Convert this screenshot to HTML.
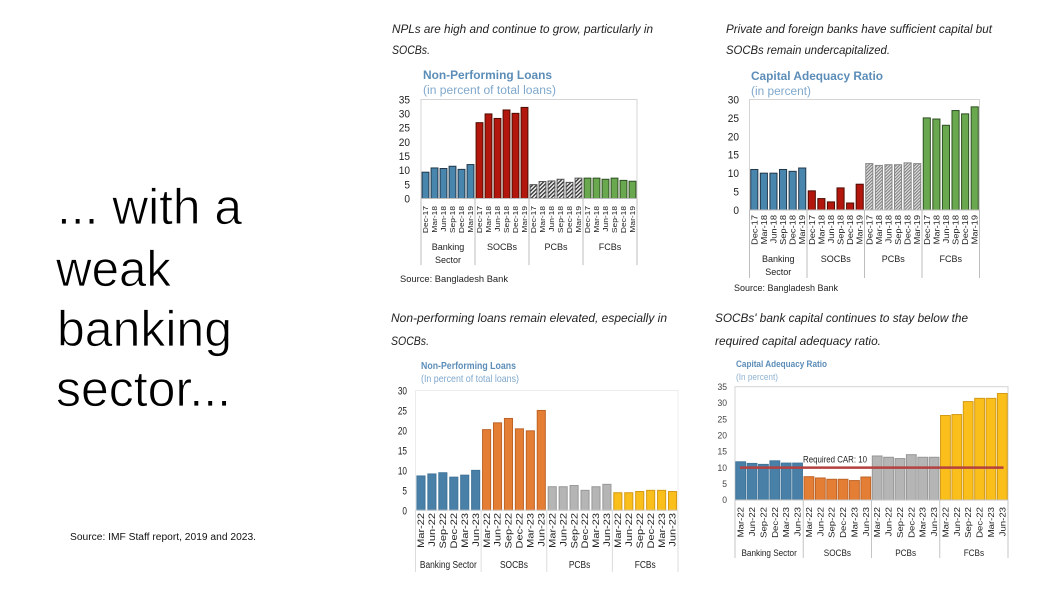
<!DOCTYPE html>
<html lang="en">
<head>
<meta charset="utf-8">
<title>Weak banking sector</title>
<style>
html,body{margin:0;padding:0;background:#fff;width:1059px;height:599px;overflow:hidden}
svg{display:block}
text{font-family:"Liberation Sans",sans-serif}
</style>
</head>
<body>
<svg id="slide" width="1059" height="599" viewBox="0 0 1059 599" xmlns="http://www.w3.org/2000/svg">
<defs>
<pattern id="hatch-dark" width="2.8" height="2.8" patternUnits="userSpaceOnUse" patternTransform="rotate(45)"><rect width="2.8" height="2.8" fill="#f0f0f0"/><rect width="1.3" height="2.8" fill="#333"/></pattern>
<pattern id="hatch-light" width="2.2" height="2.2" patternUnits="userSpaceOnUse" patternTransform="rotate(45)"><rect width="2.2" height="2.2" fill="#e4e4e4"/><rect width="1" height="2.2" fill="#777"/></pattern>
<filter id="soft" x="-5%" y="-5%" width="110%" height="110%"><feGaussianBlur stdDeviation="0.35"/></filter>
</defs>

<g font-size="50" fill="#000" stroke="#fff" stroke-width="0.8">
<text x="57" y="224" textLength="185" lengthAdjust="spacingAndGlyphs">... with a</text>
<text x="56" y="286" textLength="115" lengthAdjust="spacingAndGlyphs">weak</text>
<text x="57" y="346" textLength="175" lengthAdjust="spacingAndGlyphs">banking</text>
<text x="56" y="406" textLength="175" lengthAdjust="spacingAndGlyphs">sector...</text>
</g>
<text x="70" y="540" font-size="10" textLength="186" lengthAdjust="spacingAndGlyphs" fill="#111">Source: IMF Staff report, 2019 and 2023.</text>

<g font-size="11.5" font-style="italic" fill="#222">
<text x="392" y="33" textLength="261" lengthAdjust="spacingAndGlyphs">NPLs are high and continue to grow, particularly in</text>
<text x="392" y="54" textLength="38" lengthAdjust="spacingAndGlyphs">SOCBs.</text>
<text x="726" y="33" textLength="266" lengthAdjust="spacingAndGlyphs">Private and foreign banks have sufficient capital but</text>
<text x="726" y="54" textLength="164" lengthAdjust="spacingAndGlyphs">SOCBs remain undercapitalized.</text>
<text x="391" y="322" textLength="276" lengthAdjust="spacingAndGlyphs">Non-performing loans remain elevated, especially in</text>
<text x="391" y="345" textLength="38" lengthAdjust="spacingAndGlyphs">SOCBs.</text>
<text x="715" y="322" textLength="253" lengthAdjust="spacingAndGlyphs">SOCBs' bank capital continues to stay below the</text>
<text x="715" y="345" textLength="166" lengthAdjust="spacingAndGlyphs">required capital adequacy ratio.</text>
</g>

<g filter="url(#soft)">
<text x="423" y="79" font-size="11.5" font-weight="bold" fill="#5b8db8" textLength="129" lengthAdjust="spacingAndGlyphs">Non-Performing  Loans</text>
<text x="423" y="94" font-size="11.5" fill="#7fa8cc" textLength="133" lengthAdjust="spacingAndGlyphs">(in percent of total loans)</text>
<text x="751" y="80" font-size="11.5" font-weight="bold" fill="#5b8db8" textLength="132" lengthAdjust="spacingAndGlyphs">Capital Adequacy Ratio</text>
<text x="751" y="95" font-size="11.5" fill="#7fa8cc" textLength="60" lengthAdjust="spacingAndGlyphs">(in percent)</text>
<text x="421" y="369" font-size="10.5" font-weight="bold" fill="#5b8db8" textLength="95" lengthAdjust="spacingAndGlyphs">Non-Performing Loans</text>
<text x="421" y="382" font-size="10.5" fill="#7fa8cc" textLength="98" lengthAdjust="spacingAndGlyphs">(In percent of total loans)</text>
<text x="736" y="367" font-size="9" font-weight="bold" fill="#5b8db8" textLength="91" lengthAdjust="spacingAndGlyphs">Capital Adequacy Ratio</text>
<text x="736" y="380" font-size="9" fill="#8fb2d0" textLength="42" lengthAdjust="spacingAndGlyphs">(In percent)</text>
</g>

<text x="400" y="282" font-size="9.5" fill="#222" textLength="108" lengthAdjust="spacingAndGlyphs">Source: Bangladesh Bank</text>
<text x="734" y="291" font-size="9.5" fill="#222" textLength="104" lengthAdjust="spacingAndGlyphs">Source: Bangladesh Bank</text>

<g id="chart-npl-2019" filter="url(#soft)"></g>
<g id="chart-car-2019" filter="url(#soft)"></g>
<g id="chart-npl-2023" filter="url(#soft)"></g>
<g id="chart-car-2023" filter="url(#soft)"></g>
</svg>

<script>
// ---- data ----
const periods2019 = ["Dec-17","Mar-18","Jun-18","Sep-18","Dec-18","Mar-19"];
const periods2023 = ["Mar-22","Jun-22","Sep-22","Dec-22","Mar-23","Jun-23"];
const groups2019 = [["Banking","Sector"],["SOCBs"],["PCBs"],["FCBs"]];
const groups2023 = [["Banking Sector"],["SOCBs"],["PCBs"],["FCBs"]];

const nplTicks2019 = [0,5,10,15,20,25,30,35];
const carTicks2019 = [0,5,10,15,20,25,30];
const nplTicks2023 = [0,5,10,15,20,25,30];
const carTicks2023 = [0,5,10,15,20,25,30,35];

const nplValues2019 = [
  [9.3,10.8,10.6,11.4,10.3,12.0],
  [26.8,29.9,28.3,31.3,30.1,32.2],
  [4.9,6.0,6.2,6.8,5.7,7.2],
  [7.2,7.2,6.8,7.2,6.4,6.1]
];
const carValues2019 = [
  [11.0,10.0,10.0,11.0,10.5,11.4],
  [5.2,3.1,2.2,6.0,1.9,7.0],
  [12.6,12.1,12.3,12.3,12.8,12.6],
  [25.0,24.7,23.0,27.0,26.1,28.0]
];
const nplValues2023 = [
  [8.6,9.1,9.4,8.3,8.8,10.0],
  [20.2,21.9,23.0,20.4,19.9,25.0],
  [5.9,5.9,6.2,5.0,5.9,6.5],
  [4.4,4.4,4.7,5.0,5.0,4.7]
];
const carValues2023 = [
  [11.8,11.3,11.0,12.1,11.4,11.4],
  [7.2,6.8,6.4,6.4,6.0,7.1],
  [13.6,13.2,12.8,14.0,13.2,13.2],
  [26.1,26.4,30.4,31.4,31.4,32.9]
];
const requiredCar = 10;

// ---- drawing ----
const NS = "http://www.w3.org/2000/svg";
function svgEl(tag, parent, attrs) {
  const el = document.createElementNS(NS, tag);
  Object.keys(attrs).forEach(k => el.setAttribute(k, attrs[k]));
  parent.appendChild(el);
  return el;
}

function drawChart(o) {
  const root = document.getElementById(o.id);
  const n = o.values.length * o.values[0].length;
  const step = (o.right - o.left) / n;
  const maxTick = o.ticks[o.ticks.length - 1];
  const yScale = v => o.zero - (v / maxTick) * (o.zero - o.top);
  const xScale = i => o.left + step * i;

  if (o.frame) {
    const frame = svgEl("rect", root, {x:o.left, y:o.top, width:o.right-o.left, height:o.zero-o.top, fill:"none", stroke:o.frame, "stroke-width":1});
    
    
  }

  o.ticks.forEach(t => {
    const ty = yScale(t) + o.tickSize * 0.36;
    const label = svgEl("text", root, {transform:"translate("+o.tickX+","+ty+") scale("+o.tickStretch+",1)", "font-size":o.tickSize, "text-anchor":"end", fill:o.tickColor});
    label.textContent = t;
    
    
  });

  let idx = 0;
  o.values.forEach((series, g) => {
    const groupStart = idx;
    series.forEach((v, p) => {
      const w = step * o.barRatio;
      const bx = xScale(idx) + (step - w) / 2;
      const by = yScale(v);
      const bar = svgEl("rect", root, {x:bx, y:by, width:w, height:o.zero-by, fill:o.fills[g], stroke:o.strokes[g], "stroke-width":o.strokeWidth});
      
      

      const tx = xScale(idx) + step / 2 + o.labelSize * 0.36 * o.labelSquash;
      const tick = svgEl("text", root, {transform:"translate("+tx+","+o.labelTop+") rotate(-90) scale(1,"+o.labelSquash+")", "font-size":o.labelSize, "text-anchor":"end", fill:"#222"});
      tick.textContent = o.periods[p];
      
      
      idx++;
    });

    const cx = xScale(groupStart) + step * series.length / 2;
    o.groups[g].forEach((line, li) => {
      const gy = o.groupY + li * o.groupLine;
      const gl = svgEl("text", root, {transform:"translate("+cx+","+gy+") scale("+o.groupStretch+",1)", "font-size":o.groupSize, "text-anchor":"middle", fill:"#222"});
      gl.textContent = line;
      
      
    });
  });

  for (let g = 0; g <= o.values.length; g++) {
    const sx = xScale(g * o.values[0].length);
    const sep = svgEl("line", root, {x1:sx, x2:sx, y1:o.zero, y2:o.sepBottom, stroke:o.sepColor, "stroke-width":1});
    
    
  }

  const axis = svgEl("line", root, {x1:o.left, x2:o.right, y1:o.zero, y2:o.zero, stroke:o.sepColor, "stroke-width":1});
  
  

  if (o.reference !== undefined) {
    const ry = yScale(o.reference);
    const refLine = svgEl("line", root, {x1:o.left+5, x2:o.right-4.5, y1:ry, y2:ry, stroke:"#b5413f", "stroke-width":2.4});
    
    
    const refLabel = svgEl("text", root, {x:o.left+68, y:ry-5, "font-size":9, textLength:64, lengthAdjust:"spacingAndGlyphs", fill:"#222"});
    refLabel.textContent = "Required CAR: " + o.reference;
    
    
  }
}

const fills2019 = ["#4a86ae","#b3170f","url(#hatch-dark)","#6aa84f"];
const strokes2019 = ["#22384a","#4d0a06","#555","#2f4f22"];
const fills2023 = ["#4a80a8","#e57e36","#b5b5b5","#fbbf1f"];
const strokes2023 = ["#41749a","#bd6428","#989898","#d49a12"];

drawChart({id:"chart-npl-2019", values:nplValues2019, periods:periods2019, groups:groups2019, ticks:nplTicks2019,
  left:421, right:637, top:99.5, zero:198.5, barRatio:0.76, strokeWidth:1, fills:fills2019, strokes:strokes2019,
  frame:"#d4d4d4", tickX:410, tickSize:11, tickStretch:0.92, tickColor:"#222", labelTop:206, labelSize:8.4, labelSquash:0.9,
  groupY:250, groupLine:13, groupSize:9.5, groupStretch:0.95, sepBottom:265, sepColor:"#bdbdbd"});

drawChart({id:"chart-car-2019", values:carValues2019, periods:periods2019, groups:groups2019, ticks:carTicks2019,
  left:749.5, right:979.5, top:99.5, zero:210, barRatio:0.74, strokeWidth:1, fills:["#4a86ae","#b3170f","url(#hatch-light)","#6aa84f"], strokes:["#22384a","#4d0a06","#888","#2f4f22"],
  frame:"#d4d4d4", tickX:739, tickSize:11, tickStretch:0.92, tickColor:"#222", labelTop:215, labelSize:9.3, labelSquash:0.9,
  groupY:262, groupLine:13, groupSize:9.5, groupStretch:0.95, sepBottom:278, sepColor:"#bdbdbd"});

drawChart({id:"chart-npl-2023", values:nplValues2023, periods:periods2023, groups:groups2023, ticks:nplTicks2023,
  left:415.5, right:678, top:390.5, zero:510.3, barRatio:0.74, strokeWidth:1, fills:fills2023, strokes:strokes2023,
  frame:"#ececec", tickX:407, tickSize:11, tickStretch:0.75, tickColor:"#222", labelTop:513, labelSize:11, labelSquash:0.8,
  groupY:568, groupLine:13, groupSize:10.5, groupStretch:0.8, sepBottom:572, sepColor:"#dcdcdc"});

drawChart({id:"chart-car-2023", values:carValues2023, periods:periods2023, groups:groups2023, ticks:carTicks2023,
  left:735, right:1008, top:386.7, zero:500, barRatio:0.86, strokeWidth:1, fills:fills2023, strokes:strokes2023,
  frame:"#d4d4d4", tickX:727, tickSize:9, tickStretch:0.95, tickColor:"#444", labelTop:507, labelSize:9.6, labelSquash:0.88,
  groupY:556, groupLine:13, groupSize:9.5, groupStretch:0.86, sepBottom:558, sepColor:"#c4c4c4", reference:requiredCar});
</script>
</body>
</html>
